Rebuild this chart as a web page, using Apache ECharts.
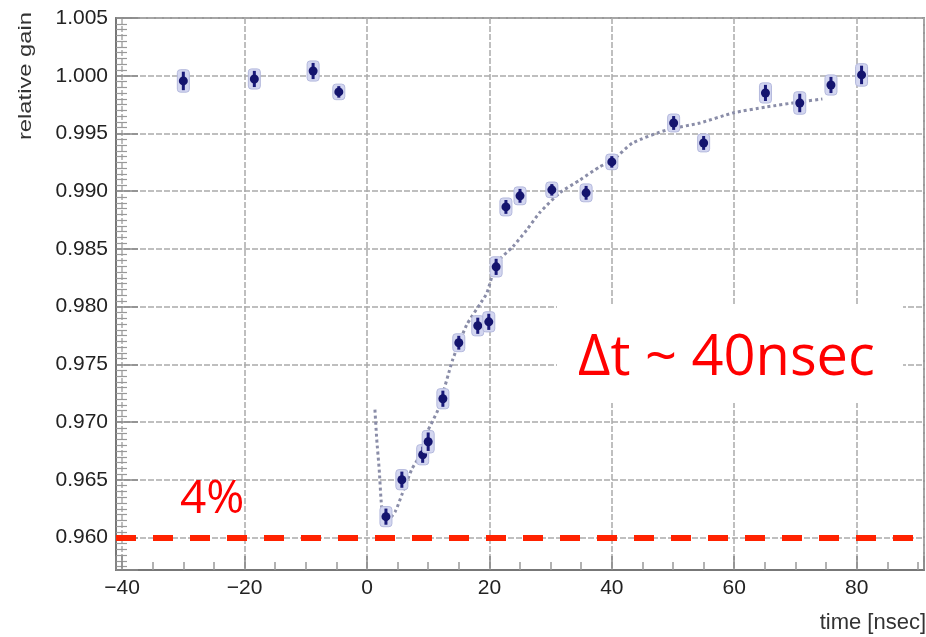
<!DOCTYPE html>
<html>
<head>
	<meta charset="utf-8">
	<title>relative gain vs time</title>
	<script src="https://cdn.jsdelivr.net/npm/echarts@6/dist/echarts.min.js"></script>
	<style>
		html, body { margin: 0; padding: 0; background: #fff; }
		#chart { width: 926px; height: 637px; }
	</style>
</head>
<body>
	<div id="chart"></div>
	<script>
		// measured points (time in nsec, relative gain, error)
		var timeNs = [-30.0, -18.4, -8.8, -4.6, 3.1, 5.7, 9.1, 10.0, 12.4, 15.0, 18.1, 19.9,
			21.1, 22.7, 25.0, 30.2, 35.8, 40.0, 50.1, 55.0, 65.1, 70.7, 75.8, 80.8];
		var gain = [0.99955, 0.99972, 1.00041, 0.99860, 0.96182, 0.96502, 0.96718, 0.96831, 0.97203, 0.97688, 0.97835, 0.97869,
			0.98345, 0.98864, 0.98960, 0.99012, 0.98986, 0.99254, 0.99591, 0.99418, 0.99851, 0.99764, 0.99920, 1.00007];
		var gainErr = [0.0008, 0.0007, 0.0007, 0.0005, 0.0007, 0.0007, 0.0007, 0.0008, 0.0007, 0.0006, 0.0007, 0.0007,
			0.0007, 0.0006, 0.0006, 0.0005, 0.0006, 0.0005, 0.0006, 0.0006, 0.0007, 0.0008, 0.0007, 0.0008];

		// fit curve
		var fitTime = [1.3, 1.6, 2.0, 2.3, 2.6, 3.1, 4.6, 5.7, 7.3, 8.7, 9.8, 11.6, 14.0, 16.3, 18.7, 19.6,
			21.2, 23.8, 26.1, 28.2, 31.5, 34.8, 38.0, 40.2, 43.4, 49.0, 54.4, 59.8, 65.3, 70.7, 74.4];
		var fitGain = [0.97108, 0.96848, 0.96589, 0.96329, 0.96182, 0.96139, 0.96225, 0.96372, 0.96589, 0.96718, 0.96909, 0.97108,
			0.97540, 0.97843, 0.98042, 0.98120, 0.98380, 0.98518, 0.98665, 0.98813, 0.98986, 0.99098, 0.99211, 0.99271,
			0.99418, 0.99531, 0.99591, 0.99678, 0.99730, 0.99773, 0.99799];

		var refLevel = 0.9601;

		var points = [], fit = [];
		for (var i = 0; i < timeNs.length; i++)
			points.push([timeNs[i], gain[i], gainErr[i]]);
		for (var i = 0; i < fitTime.length; i++)
			fit.push([fitTime[i], fitGain[i]]);

		var labelFont = {
			color: '#222',
			fontSize: 21,
			fontFamily: 'Liberation Sans, Arial, sans-serif'
		};
		var gridLine = {
			show: true,
			lineStyle: { color: '#aaa', width: 1.5, type: [6, 2] }
		};

		var chart = echarts.init(document.getElementById('chart'));
		chart.setOption({
			animation: false,
			grid: {
				left: 116,
				right: 2,
				top: 18,
				bottom: 67,
				show: true,
				borderColor: '#999',
				borderWidth: 2
			},
			xAxis: {
				type: 'value',
				min: -41,
				max: 91,
				splitNumber: 7,
				axisLine: { show: true, onZero: false, lineStyle: { color: '#777', width: 2 } },
				axisTick: { show: true, inside: true, length: 14, lineStyle: { color: '#888', width: 1.5 } },
				minorTick: { show: true, splitNumber: 4, length: 8, lineStyle: { color: '#999', width: 1.5 } },
				axisLabel: Object.assign({
					margin: 8, showMinLabel: false, showMaxLabel: false,
					formatter: function (v) { return v < 0 ? '\u2212' + (-v) : String(v); }
				}, labelFont),
				splitLine: gridLine
			},
			yAxis: {
				type: 'value',
				min: 0.9572,
				max: 1.005,
				splitNumber: 10,
				axisLine: { show: true, onZero: false, lineStyle: { color: '#777', width: 2 } },
				axisTick: { show: true, inside: true, length: 22, lineStyle: { color: '#888', width: 1.5 } },
				minorTick: { show: true, splitNumber: 10, length: 11, lineStyle: { color: '#999', width: 1.2 } },
				axisLabel: Object.assign({
					margin: 8, showMinLabel: false,
					formatter: function (v) { return v.toFixed(3); }
				}, labelFont),
				splitLine: gridLine
			},
			graphic: [
				{
					type: 'text', left: 16, top: 12, rotation: Math.PI / 2, scaleX: 1.25,
					style: { text: 'relative gain', fill: '#333', font: '19px Liberation Sans, Arial, sans-serif' }
				},
				{
					type: 'text', right: 0, top: 612,
					style: { text: 'time [nsec]', fill: '#333', font: '22px Liberation Sans, Arial, sans-serif' }
				},
				{
					type: 'rect', left: 557, top: 305, z: 50,
					shape: { width: 346, height: 98 },
					style: { fill: '#fff' }
				},
				{
					type: 'text', left: 578, top: 331, z: 51,
					style: { text: 'Δt ~ 40nsec', fill: '#ff0000', font: '56px Open Sans, sans-serif' }
				},
				{
					type: 'text', left: 180, top: 477, z: 51,
					style: { text: '4%', fill: '#ff0000', font: '46px Open Sans, sans-serif' }
				}
			],
			series: [
				{
					type: 'line',
					data: fit,
					smooth: 0.2,
					symbol: 'none',
					z: 2,
					lineStyle: { color: '#8a8da8', width: 3, type: [3, 3] }
				},
				{
					type: 'custom',
					data: points,
					z: 3,
					renderItem: function (params, api) {
						var c = api.coord([api.value(0), api.value(1)]);
						var hi = api.coord([api.value(0), api.value(1) + api.value(2)]);
						var lo = api.coord([api.value(0), api.value(1) - api.value(2)]);
						return {
							type: 'group',
							children: [
								{
									type: 'rect',
									shape: { x: c[0] - 6, y: hi[1] - 2, width: 12, height: lo[1] - hi[1] + 4, r: 3 },
									style: { fill: '#d3d6f0', stroke: '#b4b9dd', lineWidth: 1 }
								},
								{
									type: 'line',
									shape: { x1: c[0], y1: hi[1], x2: c[0], y2: lo[1] },
									style: { stroke: '#1a1a7a', lineWidth: 3 }
								},
								{
									type: 'circle',
									shape: { cx: c[0], cy: c[1], r: 4.5 },
									style: { fill: '#14146e' }
								}
							]
						};
					}
				},
				{
					type: 'line',
					data: [],
					markLine: {
						silent: true,
						symbol: 'none',
						label: { show: false },
						lineStyle: { color: '#ff2200', width: 6, type: [20, 17] },
						data: [{ yAxis: refLevel }]
					}
				}
			]
		});
	</script>
</body>
</html>
